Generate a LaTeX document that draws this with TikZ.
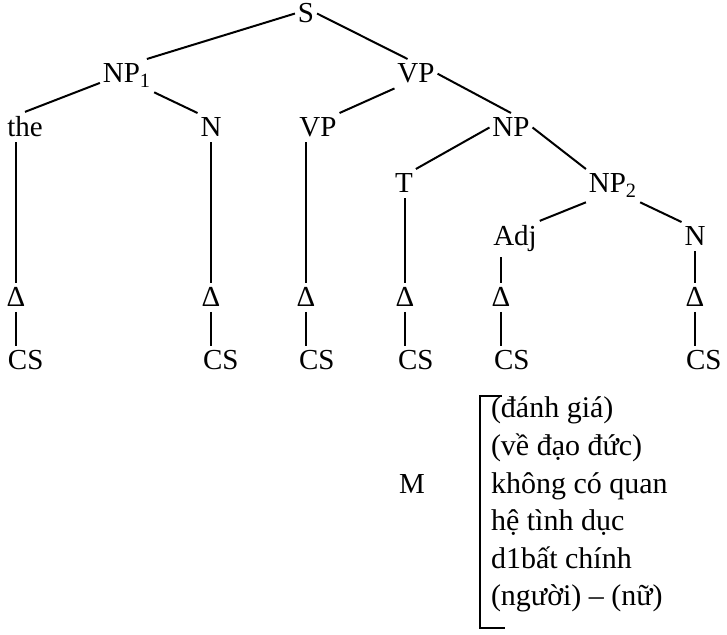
\documentclass[tikz,border=0pt]{standalone}
\usepackage{fontspec}
\setmainfont{Liberation Serif}
\begin{document}
\begin{tikzpicture}[x=0.5pt, y=-0.5pt, line width=1pt,
		lbl/.style={anchor=base, inner xsep=1pt, inner ysep=2pt, font=\fontsize{14.5}{17}\selectfont},
		leaf/.style={lbl, anchor=base west},
		gloss/.style={anchor=base west, inner sep=0pt, font=\fontsize{15}{18}\selectfont}]
		\useasboundingbox (0,0) rectangle (727,635);
		\node[lbl] (s) at (306,23) {S};
		\node[lbl] (np1) at (127,83) {NP\textsubscript{1}};
		\node[lbl] (vp) at (416,83) {VP};
		\node[lbl] (the) at (25,137) {the};
		\node[lbl] (n1) at (211,137) {N};
		\node[lbl] (vp2) at (318,137) {VP};
		\node[lbl] (np) at (511,137) {NP};
		\node[lbl] (t) at (404,193) {T};
		\node[lbl] (np2) at (613,193) {NP\textsubscript{2}};
		\node[lbl] (adj) at (515,246) {Adj};
		\node[lbl] (n2) at (695,246) {N};
		\draw (s.west) -- (np1.40);
		\draw (s.east) -- (vp.120);
		\draw (np1.195) -- (the.north);
		\draw (np1.south east) -- (n1.north west);
		\draw (vp.south west) -- (vp2.north east);
		\draw (vp.east) -- (np.north);
		\draw (np.west) -- (t.north east);
		\draw (np.east) -- (np2.north west);
		\draw (np2.south west) -- (adj.north east);
		\draw (np2.south east) -- (n2.north west);
		\node[lbl] (delta1) at (16,307) {Δ};
		\node[lbl] (delta2) at (211,307) {Δ};
		\node[lbl] (delta3) at (306,307) {Δ};
		\node[lbl] (delta4) at (405,307) {Δ};
		\node[lbl] (delta5) at (501,307) {Δ};
		\node[lbl] (delta6) at (695,307) {Δ};
		\draw (delta1.north) -- (delta1 |- the.south);
		\draw (delta2.north) -- (delta2 |- n1.south);
		\draw (delta3.north) -- (delta3 |- vp2.south);
		\draw (delta4.north) -- (delta4 |- t.south);
		\draw (delta5.north) -- (delta5 |- adj.south);
		\draw (delta6.north) -- (delta6 |- n2.south);
		\node[leaf] (cs1) at (5,370) {CS};
		\node[leaf] (cs2) at (200,370) {CS};
		\node[leaf] (cs3) at (296,370) {CS};
		\node[leaf] (cs4) at (395,370) {CS};
		\node[leaf] (cs5) at (491,370) {CS};
		\node[leaf] (cs6) at (683,370) {CS};
		\draw (delta1.south) -- (delta1 |- cs1.north);
		\draw (delta2.south) -- (delta2 |- cs2.north);
		\draw (delta3.south) -- (delta3 |- cs3.north);
		\draw (delta4.south) -- (delta4 |- cs4.north);
		\draw (delta5.south) -- (delta5 |- cs5.north);
		\draw (delta6.south) -- (delta6 |- cs6.north);
		\node[lbl] (m) at (412,493) {M};
		\node[gloss] (g1) at (490,418) {(đánh giá)};
		\node[gloss] (g2) at (490,455.5) {(về đạo đức)};
		\node[gloss] (g3) at (490,493) {không có quan};
		\node[gloss] (g4) at (490,530.5) {hệ tình dục};
		\node[gloss] (g5) at (490,568) {d1bất chính};
		\node[gloss] (g6) at (490,605.5) {(người) – (nữ)};
		\draw ([xshift=6pt]g1.north west) -- ([xshift=-5pt]g1.north west)
			-- ([xshift=-5pt, yshift=-7.5pt]g6.south west) -- ([xshift=7.5pt, yshift=-7.5pt]g6.south west);
	\end{tikzpicture}
\end{document}
